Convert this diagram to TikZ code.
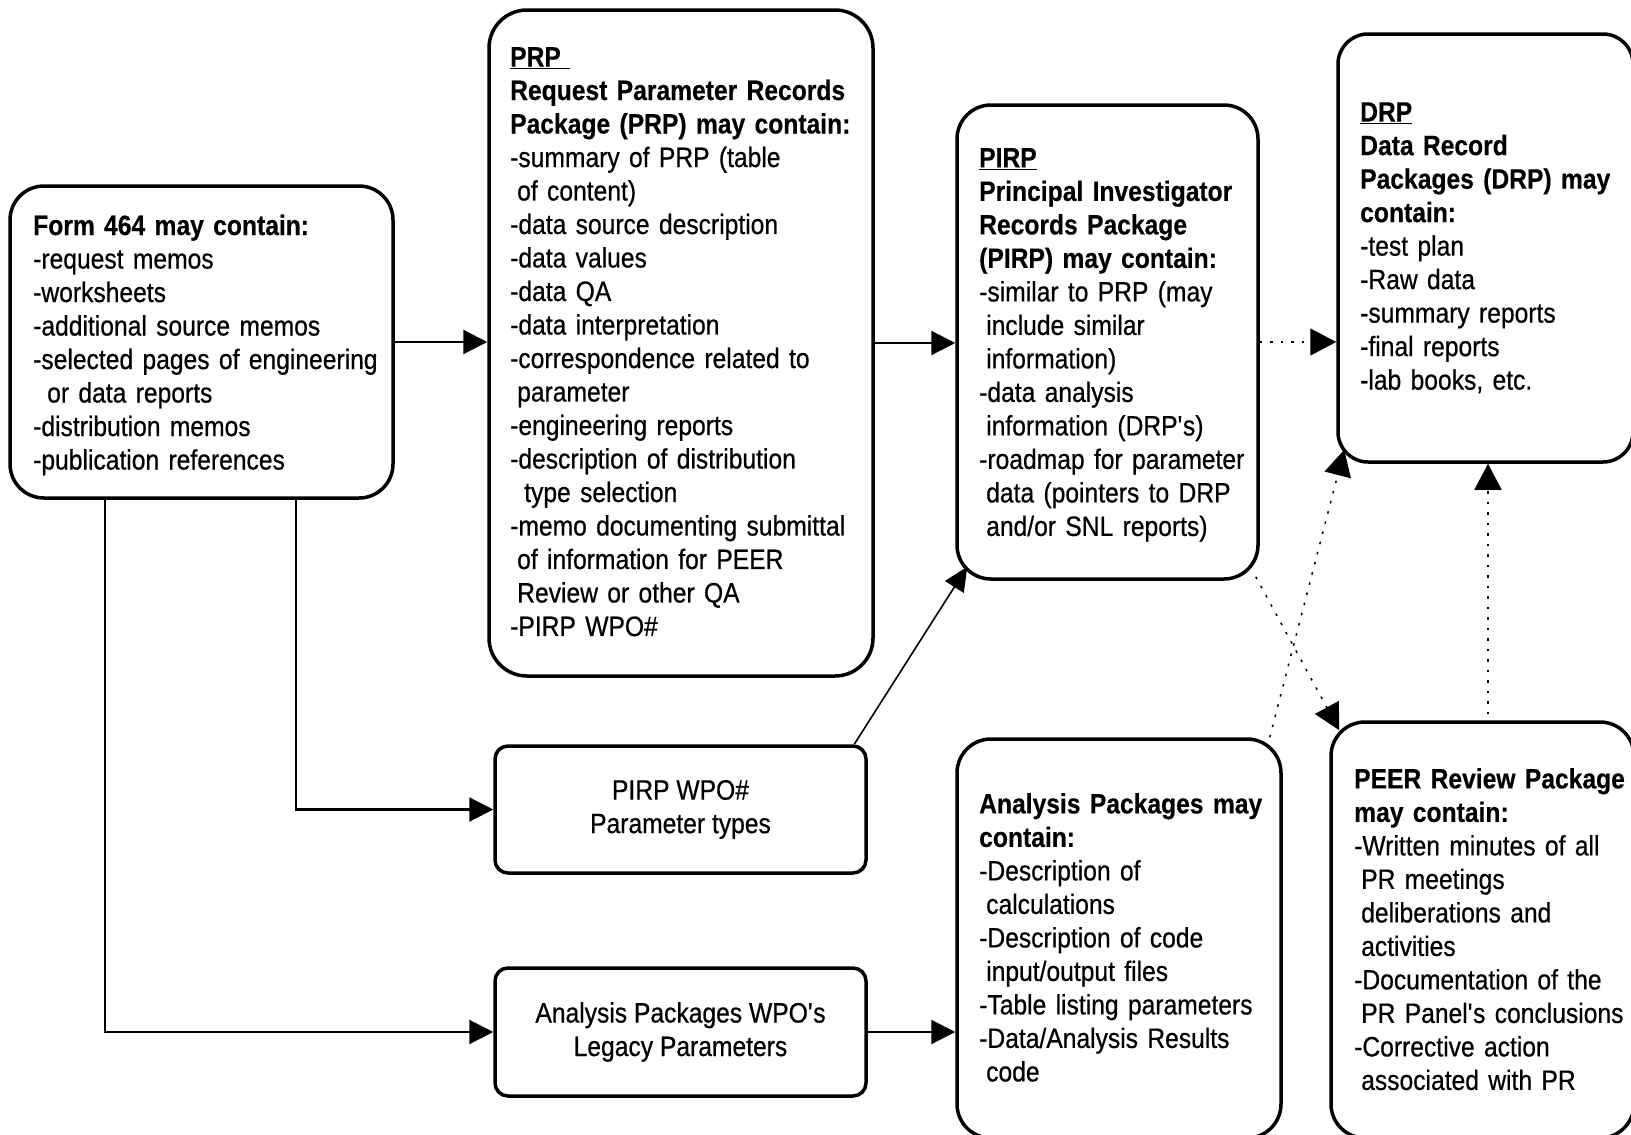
\documentclass[tikz,border=0pt]{standalone}
\usepackage{fontspec}
\setmainfont{Liberation Sans}[FakeStretch=0.88, UprightFeatures={FakeBold=0.6}, BoldFeatures={FakeBold=0.4}]
\usetikzlibrary{arrows.meta}
\newcommand{\txtfont}{\fontsize{28pt}{33.5pt}\selectfont}
\newcommand{\ind}{\hspace*{7pt}}
\newcommand{\indd}{\hspace*{14pt}}
\newcommand{\ap}{\textquotesingle}
\begin{document}
\begin{tikzpicture}[x=1pt,y=-1pt,
  bigbox/.style={draw, line width=3.5pt, rounded corners=34pt, inner sep=0pt},
  smallbox/.style={draw, line width=3.5pt, rounded corners=13pt, inner sep=0pt, align=center, font=\txtfont},
  txt/.style={inner sep=0pt, anchor=base west, text width=420pt, align=left, font=\txtfont},
  conn/.style={line width=2.2pt, -{Triangle[length=24pt,width=24pt]}},
  dotconn/.style={line width=1.5pt, dash pattern=on 2.5pt off 8pt, -{Triangle[length=26pt,width=27pt]}}]
\useasboundingbox (0,0) rectangle (1631,1135);
\fill[white] (0,0) rectangle (1631,1135);

% boxes
\node[bigbox, minimum width=383pt, minimum height=312pt] (form) at (201.5,342) {};
\node[bigbox, rounded corners=38pt, minimum width=384pt, minimum height=666pt] (prp) at (681,343) {};
\node[bigbox, minimum width=301pt, minimum height=474pt] (pirp) at (1107.5,342) {};
\node[bigbox, rounded corners=30pt, minimum width=295pt, minimum height=428pt] (drp) at (1485.5,248) {};
\node[bigbox, minimum width=303pt, minimum height=416pt] (peer) at (1482.5,930) {};
\node[bigbox, minimum width=324pt, minimum height=399pt] (anal) at (1119,938.5) {};
\node[smallbox, minimum width=371pt, minimum height=127pt] (pwpo) at (680.5,809.5) {PIRP WPO\#\\Parameter types};
\node[smallbox, minimum width=371pt, minimum height=128pt] (awpo) at (680.5,1032) {Analysis Packages WPO\ap s\\Legacy Parameters};

% texts
\node[txt] (formT) at (33,235) {\textbf{Form 464 may contain:}\\
-request memos\\
-worksheets\\
-additional source memos\\
-selected pages of engineering\\
\indd or data reports\\
-distribution memos\\
-publication references};

\node[txt] (prpT) at (510,66.5) {\underline{\textbf{PRP}\ }\\
\textbf{Request Parameter Records}\\
\textbf{Package (PRP) may contain:}\\
-summary of PRP (table\\
\ind of content)\\
-data source description\\
-data values\\
-data QA\\
-data interpretation\\
-correspondence related to\\
\ind parameter\\
-engineering reports\\
-description of distribution\\
\indd type selection\\
-memo documenting submittal\\
\ind of information for PEER\\
\ind Review or other QA\\
-PIRP WPO\#};

\node[txt] (pirpT) at (979,167.4) {\underline{\textbf{PIRP}}\\
\textbf{Principal Investigator}\\
\textbf{Records Package}\\
\textbf{(PIRP) may contain:}\\
-similar to PRP (may\\
\ind include similar\\
\ind information)\\
-data analysis\\
\ind information (DRP\ap s)\\
-roadmap for parameter\\
\ind data (pointers to DRP\\
\ind and/or SNL reports)};

\node[txt] (drpT) at (1360,121.6) {\underline{\textbf{DRP}}\\
\textbf{Data Record}\\
\textbf{Packages (DRP) may}\\
\textbf{contain:}\\
-test plan\\
-Raw data\\
-summary reports\\
-final reports\\
-lab books, etc.};

\node[txt] (peerT) at (1354,788.4) {\textbf{PEER Review Package}\\
\textbf{may contain:}\\
-Written minutes of all\\
\ind PR meetings\\
\ind deliberations and\\
\ind activities\\
-Documentation of the\\
\ind PR Panel\ap s conclusions\\
-Corrective action\\
\ind associated with PR};

\node[txt] (analT) at (979,813.4) {\textbf{Analysis Packages may}\\
\textbf{contain:}\\
-Description of\\
\ind calculations\\
-Description of code\\
\ind input/output files\\
-Table listing parameters\\
-Data/Analysis Results\\
\ind code};

% connectors
\draw[conn] (form.east) -- (form.east -| prp.west);
\draw[conn] (prp.east) -- (prp.east -| pirp.west);
\draw[dotconn] (pirp.east) -- (pirp.east -| drp.west);
\draw[conn] ([xshift=94.5pt]form.south) |- (pwpo.west);
\draw[conn] ([xshift=-96.5pt]form.south) |- (awpo.west);
\draw[conn] (awpo.east) -- (awpo.east -| anal.west);
\draw[line width=1.6pt, -{Triangle[length=24pt,width=22pt]}] ([xshift=-13.5pt]pwpo.north east) -- ([xshift=12pt,yshift=14pt]pirp.south west);
\draw[dotconn] ([xshift=-4pt,yshift=4pt]pirp.south east) -- ([xshift=10pt,yshift=-10pt]peer.north west);
\draw[dotconn] ([xshift=-13pt]anal.north east) -- ([xshift=8pt,yshift=14pt]drp.south west);
\draw[dotconn] ([xshift=5.5pt,yshift=6pt]peer.north) -- ([xshift=5.5pt]peer.north |- drp.south);
\end{tikzpicture}
\end{document}
